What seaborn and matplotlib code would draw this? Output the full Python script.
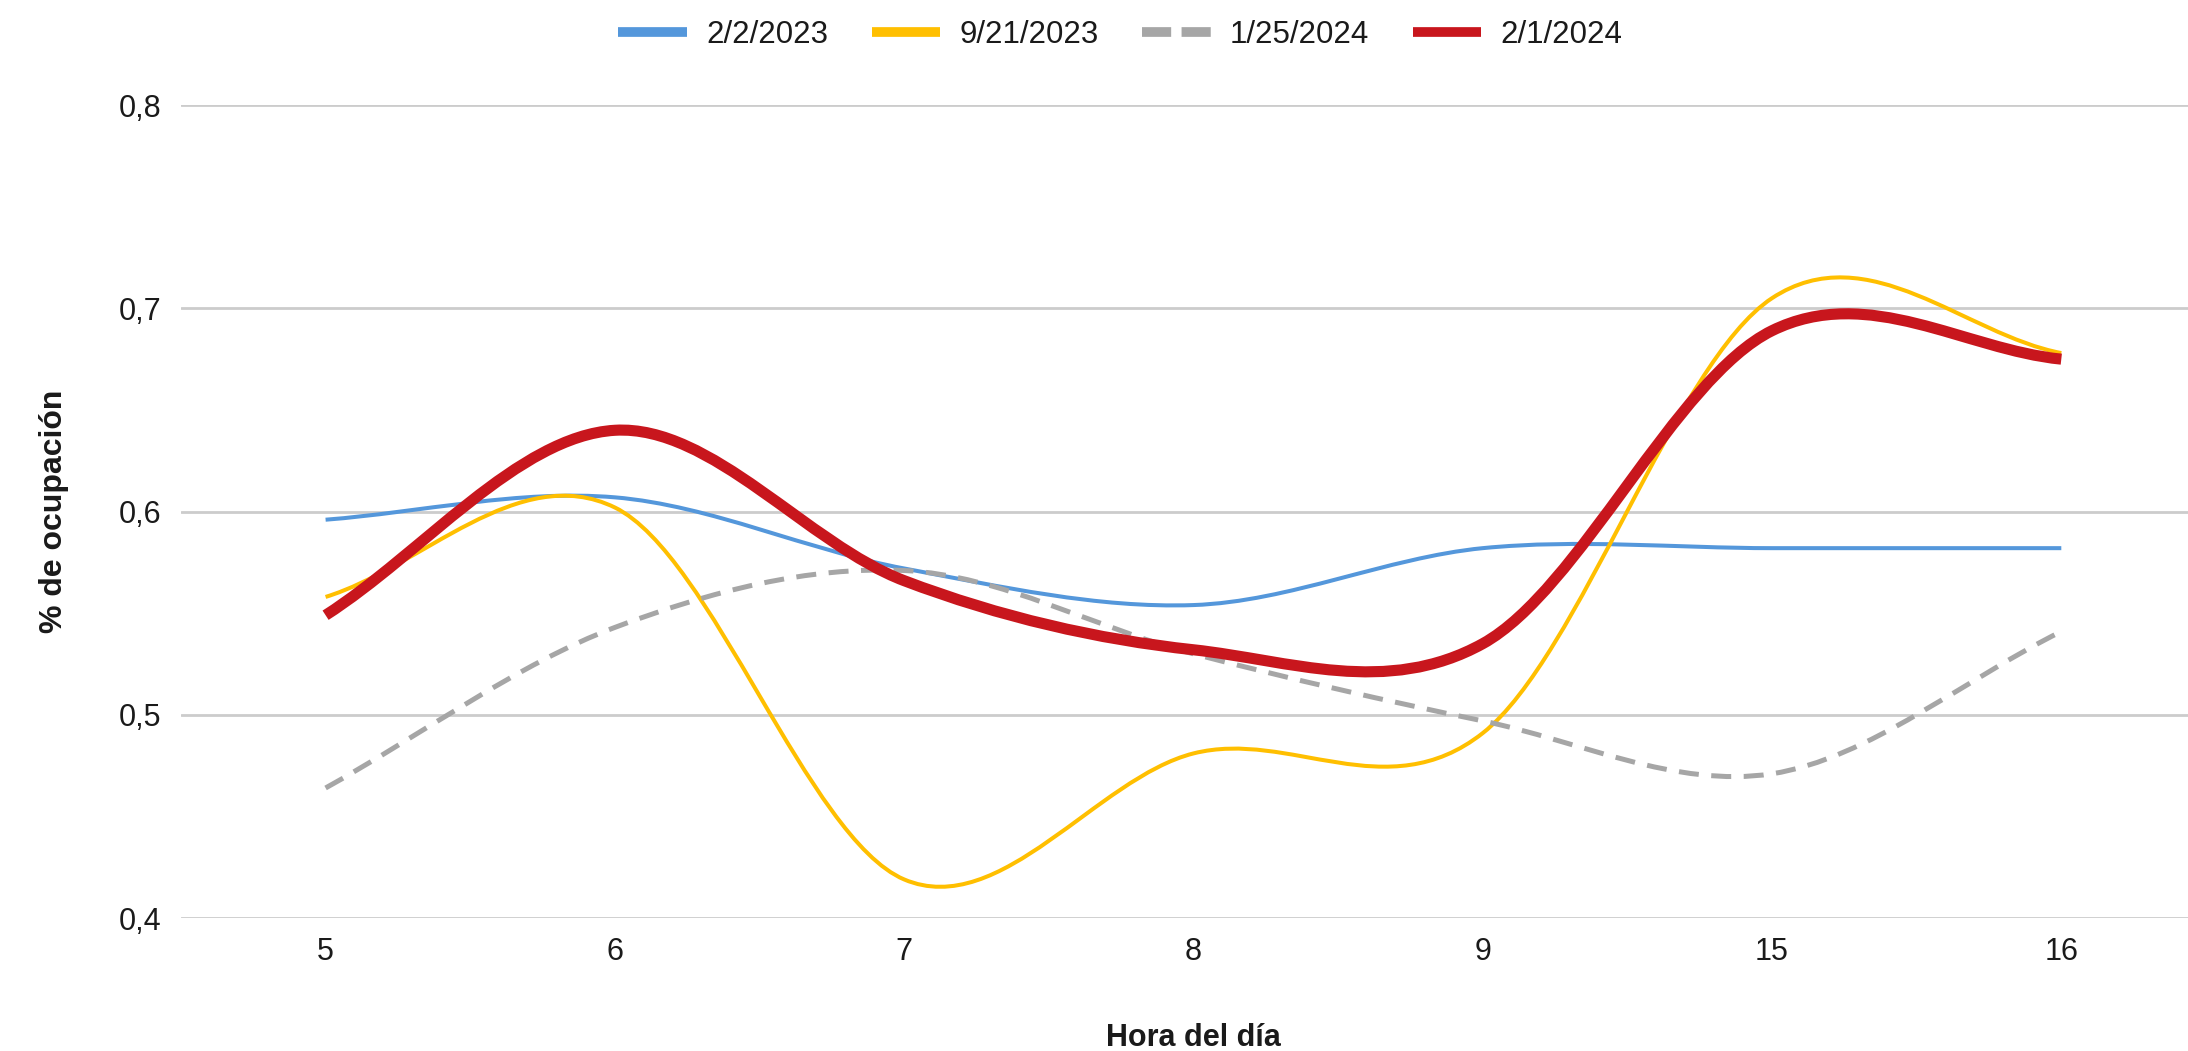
import matplotlib
matplotlib.use("Agg")
import matplotlib.pyplot as plt
from matplotlib.path import Path
from matplotlib.patches import PathPatch
from matplotlib.lines import Line2D
import seaborn as sns
import numpy as np

# datos
horas = ["5", "6", "7", "8", "9", "15", "16"]
fechas = ["2/2/2023", "9/21/2023", "1/25/2024", "2/1/2024"]
ocup_2023_02_02 = [0.596, 0.607, 0.572, 0.554, 0.582, 0.582, 0.582]
ocup_2023_09_21 = [0.558, 0.602, 0.419, 0.481, 0.491, 0.705, 0.678]
ocup_2024_01_25 = [0.464, 0.543, 0.571, 0.530, 0.497, 0.471, 0.541]
ocup_2024_02_01 = [0.549, 0.640, 0.566, 0.532, 0.535, 0.689, 0.675]

series = [ocup_2023_02_02, ocup_2023_09_21, ocup_2024_01_25, ocup_2024_02_01]
colores = ["#5497db", "#ffbf00", "#a6a6a6", "#c8161d"]
grosores = [2.9, 2.9, 3.6, 8.0]
estilos = ["-", "-", (0, (4, 2.5)), "-"]

sns.set_theme(style="whitegrid")
plt.rcParams["font.family"] = ["Liberation Sans", "DejaVu Sans"]


def curva_suave(y):
    """Path de Bezier (tipo Catmull-Rom) que pasa por los puntos."""
    y = np.asarray(y, dtype=float)
    n = len(y)
    x = np.arange(n, dtype=float)
    m = np.zeros(n)
    m[1:-1] = (y[2:] - y[:-2]) / 2
    m[0] = y[1] - y[0]
    m[-1] = y[-1] - y[-2]
    verts = [(x[0], y[0])]
    codes = [Path.MOVETO]
    for i in range(n - 1):
        verts += [(x[i] + 1 / 3, y[i] + m[i] / 3),
                  (x[i + 1] - 1 / 3, y[i + 1] - m[i + 1] / 3),
                  (x[i + 1], y[i + 1])]
        codes += [Path.CURVE4] * 3
    return Path(verts, codes)


fig = plt.figure(figsize=(21.88, 10.51), dpi=100)
ax = fig.add_axes([0.0827, 0.1265, 0.9255, 0.7735])

for vals, col, lw, ls in zip(series, colores, grosores, estilos):
    patch = PathPatch(curva_suave(vals), fill=False, edgecolor=col, lw=lw,
                      linestyle=ls, capstyle="butt", joinstyle="round", zorder=3)
    ax.add_patch(patch)

ax.set_xlim(-0.5, len(horas) - 0.5)
ax.set_ylim(0.4, 0.8)
ax.set_xticks(range(len(horas)))
ax.set_xticklabels(horas)
yt = [0.4, 0.5, 0.6, 0.7, 0.8]
ax.set_yticks(yt)
ax.set_yticklabels([f"{v:.1f}".replace(".", ",") for v in yt])

ax.grid(axis="x", visible=False)
ax.grid(axis="y", color="#cccccc", linewidth=2)
for s in ax.spines.values():
    s.set_visible(False)
ax.set_facecolor("white")
ax.tick_params(axis="both", labelsize=22, colors="#1a1a1a", length=0)
ax.tick_params(axis="y", pad=14)
ax.tick_params(axis="x", pad=14)

ax.set_xlabel("Hora del día", fontsize=22, fontweight="bold", color="#1a1a1a", labelpad=40)
ax.set_ylabel("% de ocupación", fontsize=23, fontweight="bold", color="#1a1a1a", labelpad=36)

handles = []
for f, col in zip(fechas, colores):
    handles.append(Line2D([0], [0], color=col, lw=7, solid_capstyle="butt",
                          dash_capstyle="butt", label=f))
handles[2].set_dashes((3.0, 1.07))
fig.legend(handles=handles, loc="upper center", bbox_to_anchor=(0.512, 1.008),
           ncol=4, frameon=False, fontsize=22.5, handlelength=2.2, columnspacing=1.4,
           handletextpad=0.6, labelcolor="#1a1a1a")

fig.savefig("out.png", dpi=100, facecolor="white")
